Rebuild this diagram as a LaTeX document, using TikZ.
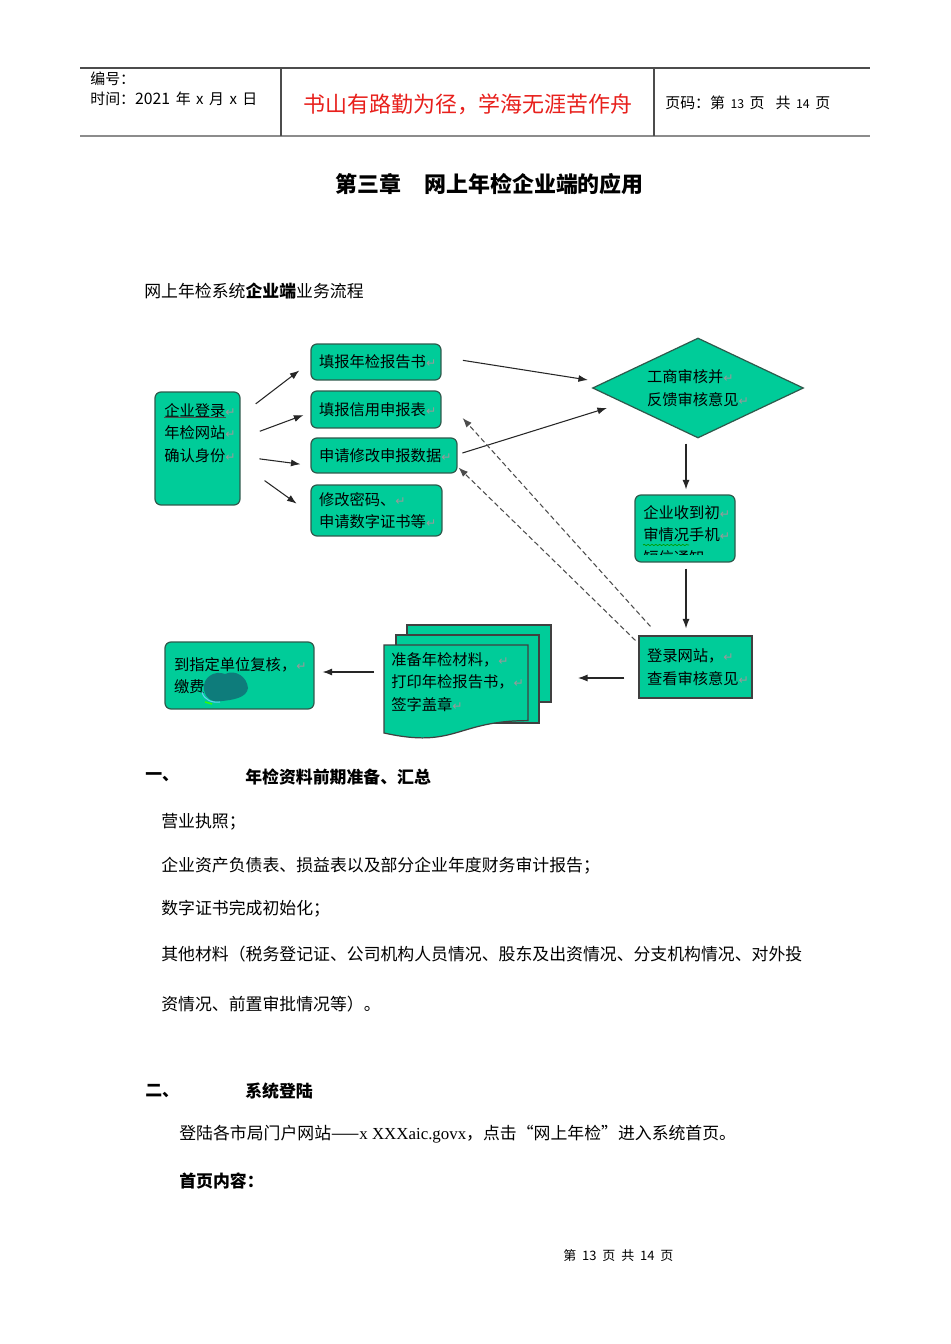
\documentclass[tikz,border=0pt]{standalone}
\usepackage{fontspec}
\setmainfont{Liberation Serif}
\newfontfamily\cjk{Noto Sans CJK SC}
\newfontfamily\symfont{DejaVu Sans}
\usetikzlibrary{arrows.meta,shapes.geometric,calc,decorations.pathmorphing}
\definecolor{gfill}{HTML}{00CC99}
\definecolor{edge}{HTML}{2E5A4C}
\definecolor{motto}{HTML}{E8201C}
\definecolor{blob}{HTML}{0E7C7B}
\newcommand{\ret}{{\symfont\fontsize{7}{7}\selectfont\color{black!40}↵}}
\newcommand{\boxfont}{\cjk\fontsize{8.7}{12.8}\selectfont}
\newcommand{\bodyfont}{\cjk\fontsize{9.6}{9.6}\selectfont}
\newcommand{\hdrfont}{\cjk\fontsize{8.5}{8.5}\selectfont}
\newcommand{\gap}{\hspace{0.11cm}}
\begin{document}
\begin{tikzpicture}[x=0.02cm,y=-0.02cm,
	green box/.style = {draw=edge, fill=gfill, rounded corners=3.4pt, line width=0.7pt,
		align=left, inner xsep=0.16cm, inner ysep=0pt, font=\boxfont},
	box text/.style = {inner sep=0pt, align=left, font=\boxfont},
	page/.style = {fill=gfill, draw=black!75, line width=0.7pt},
	body text/.style = {anchor=west, inner sep=0pt, font=\bodyfont},
	flow arrow/.style = {-{Latex[length=0.19cm,width=0.14cm]}, line width=0.6pt, black!85},
	dash arrow/.style = {flow arrow, black!70, dash pattern=on 0.1cm off 0.06cm}]

\fill[white] (0,0) rectangle (950,1344);
\useasboundingbox (0,0) rectangle (950,1344);

% header table
\draw[black!70, line width=0.7pt] (80,68) -- (870,68);
\draw[black!45, line width=1.4pt] (80,136) -- (870,136);
\draw[black!70, line width=0.7pt] (281,68) -- (281,136);
\draw[black!70, line width=0.7pt] (654,68) -- (654,136);
\node[body text, font=\hdrfont] (num) at (90,79) {编号：};
\node[body text, font=\hdrfont] (date) at (90,99) {时间：{\fontsize{9}{9}\selectfont 2021}\gap 年\gap x\gap 月\gap x\gap 日};
\node[font=\cjk\fontsize{12.5}{12.5}\selectfont, text=motto, inner sep=0pt] (motto) at (468,104) {书山有路勤为径，学海无涯苦作舟};
\node[body text, font=\hdrfont] (pageno) at (665,103) {页码：第\gap{\fontsize{7}{7}\selectfont 13}\gap 页\gap\gap 共\gap{\fontsize{7}{7}\selectfont 14}\gap 页};

% title
\node[body text, font=\cjk\bfseries\fontsize{12.5}{12.5}\selectfont] (title) at (335,184) {第三章\hspace{0.46cm}网上年检企业端的应用};
\node[body text] (caption) at (144,291) {网上年检系统{\bfseries 企业端}业务流程};

% flow chart nodes
\node[green box, minimum width=1.7cm, minimum height=2.26cm] (login) at (197.5,448.5) {};
\node[box text, anchor=north west] (logintext) at (164,403) {企业登录\ret\\年检网站\ret\\确认身份\ret};
\draw[black!70, line width=0.4pt] (164,417) -- (226,417);

\node[green box, text width=2.28cm, minimum height=0.72cm] (fill1) at (376,362) {填报年检报告书\ret};
\node[green box, text width=2.28cm, minimum height=0.74cm] (fill2) at (376,409.5) {填报信用申报表\ret};
\node[green box, text width=2.6cm, minimum height=0.7cm] (modify) at (384,455.5) {申请修改申报数据\ret};
\node[green box, text width=2.3cm, minimum height=1.02cm] (pwd) at (376.5,510.5) {修改密码、\ret\\申请数字证书等\ret};

\node[diamond, aspect=2.1, draw=edge, fill=gfill, line width=0.7pt, minimum width=4.22cm,
	minimum height=2cm, inner sep=0pt, align=left, font=\boxfont] (dia) at (698,388) {工商审核并\ret\\反馈审核意见\ret};

\node[green box, minimum width=2cm, minimum height=1.34cm] (notice) at (685,528.5) {};
\begin{scope}
	\clip (635,495) rectangle (735,554);
	\node[box text, anchor=north west] (noticetext) at (643,505) {企业收到初\ret\\审情况手机\ret\\短信通知};
\end{scope}
\draw[green!60!black, line width=0.4pt, decorate, decoration={snake, amplitude=0.35pt, segment length=2.2pt}] (643,545) -- (689,545);

\node[green box, rounded corners=0pt, draw=black!75, text width=1.94cm, minimum height=1.24cm] (login2) at (695.5,667) {登录网站，\ret\\查看审核意见\ret};

% stacked documents
\filldraw[page] (407,625) rectangle (551,702);
\filldraw[page] (396,635) rectangle (539,723);
\filldraw[page] (384,645) -- (528,645) -- (528,720.6) .. controls (456,720.6) and (456,749) .. (384,733) -- cycle;
\node[box text, anchor=north west] (docstext) at (391,652) {准备年检材料，\ret\\打印年检报告书，\ret\\签字盖章\ret};
\coordinate (docsl) at (384,672);
\coordinate (docsr) at (551,678);

\node[green box, text width=2.62cm, inner xsep=0.18cm, minimum height=1.34cm] (recheck) at (239.5,675.5) {到指定单位复核，\ret\\缴费};
\fill[blob] (204,690) .. controls (202,677) and (215,670) .. (225,674) .. controls (236,669) and (247,677) .. (248,688)
	.. controls (247,698) and (232,700) .. (222,701) .. controls (213,703) and (206,699) .. (204,690) -- cycle;
\draw[cyan!60, line width=0.6pt] (202,692) .. controls (204,700) and (212,703) .. (220,702);
\draw[green!80!yellow, line width=0.8pt] (205,702) -- (212,704);

% connectors
\draw[flow arrow, shorten <=0.38cm, shorten >=0.28cm] ($(login.north east)+(0,24)$) -- (fill1.west);
\draw[flow arrow, shorten <=0.41cm, shorten >=0.15cm] ($(login.north east)+(0,47)$) -- ($(fill2.west)+(0,3)$);
\draw[flow arrow, shorten <=0.38cm, shorten >=0.2cm] ($(login.north east)+(0,65)$) -- ($(modify.west)+(0,10)$);
\draw[flow arrow, shorten <=0.59cm, shorten >=0.34cm] ($(login.north east)+(0,72)$) -- ($(pwd.west)+(0,3)$);
\draw[flow arrow, shorten <=0.43cm] ($(fill1.east)+(0,-5)$) -- ($(dia.west)+(-4,-8)$);
\draw[flow arrow, shorten <=0.1cm] ($(modify.east)+(0,-1)$) -- ($(dia.west)+(15,20)$);
\draw[flow arrow] ($(dia.south -| notice.north)+(1,5)$) -- ($(notice.north)+(1,-5)$);
\draw[flow arrow] ($(notice.south)+(1,6)$) -- ($(notice.south |- login2.north)+(1,-7)$);
\draw[flow arrow] ($(login2.west)+(-14,11)$) -- ($(docsr)+(27,0)$);
\draw[flow arrow] ($(docsl)+(-10,0)$) -- ($(recheck.east |- docsl)+(8,0)$);
\draw[dash arrow] ($(login2.north west)+(12,-9)$) -- ($(fill2.east)+(21,8.5)$);
\draw[dash arrow] ($(login2.north west)+(-3,5)$) -- ($(modify.south east)+(1,-6)$);

% text body
\node[body text, font=\bodyfont\bfseries] (sec1) at (145,777) {一、};
\node[body text, font=\bodyfont\bfseries] (sec1title) at (245,777) {年检资料前期准备、汇总};
\node[body text] (line1) at (161,822) {营业执照；};
\node[body text] (line2) at (161,866) {企业资产负债表、损益表以及部分企业年度财务审计报告；};
\node[body text] (line3) at (161,909) {数字证书完成初始化；};
\node[body text] (line4) at (161,954) {其他材料（税务登记证、公司机构人员情况、股东及出资情况、分支机构情况、对外投};
\node[body text] (line5) at (161,1004) {资情况、前置审批情况等）。};
\node[body text, font=\bodyfont\bfseries] (sec2) at (145,1091) {二、};
\node[body text, font=\bodyfont\bfseries] (sec2title) at (245,1091) {系统登陆};
\node[body text] (line6) at (179,1134) {登陆各市局门户网站——{\rmfamily\fontsize{9.6}{9.6}\selectfont x XXXaic.govx}，点击“网上年检”进入系统首页。};
\node[body text, font=\bodyfont\bfseries] (line7) at (179,1181) {首页内容：};
\node[body text, font=\cjk\fontsize{7.4}{7.4}\selectfont] (footer) at (563,1256) {第\ \ 13\ \ 页\ \ 共\ \ 14\ \ 页};
\end{tikzpicture}
\end{document}
